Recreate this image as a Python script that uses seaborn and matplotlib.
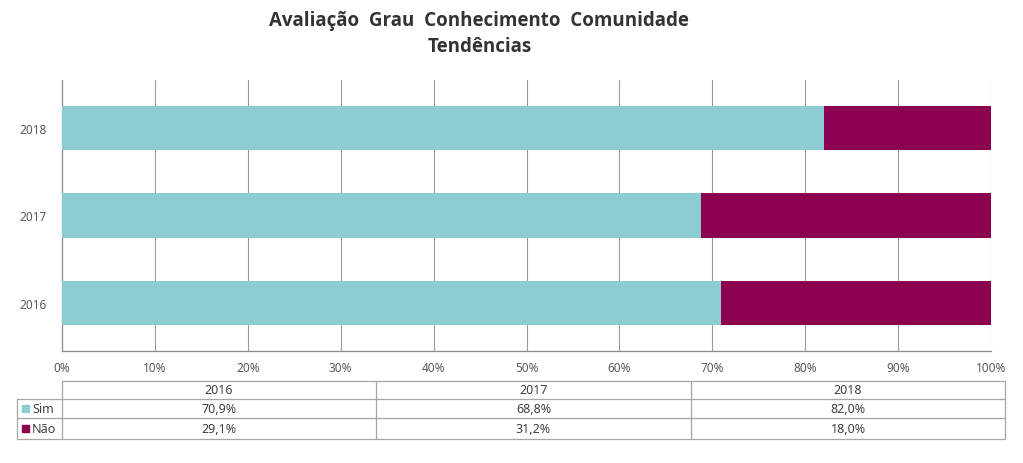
import matplotlib
matplotlib.use('Agg')
import matplotlib.pyplot as plt
import seaborn as sns
import pandas as pd

anos = ['2016', '2017', '2018']
sim = [70.9, 68.8, 82.0]
nao = [29.1, 31.2, 18.0]
sim_txt = ['70,9%', '68,8%', '82,0%']
nao_txt = ['29,1%', '31,2%', '18,0%']
x_ticks = [0, 10, 20, 30, 40, 50, 60, 70, 80, 90, 100]

cor_sim = '#8BCDD1'
cor_nao = '#8C0050'
cor_linha = '#A6A6A6'

sns.set_theme(style='white')
plt.rcParams['font.family'] = ['Noto Sans', 'DejaVu Sans']

df = pd.DataFrame({'ano': anos, 'Sim': sim, 'Não': nao})
df['total'] = df['Sim'] + df['Não']
ordem = ['2018', '2017', '2016']

W, H = 1023, 464
fig = plt.figure(figsize=(W / 100, H / 100), dpi=100)

# grafico principal (coordenadas em pixels convertidas)
ax = fig.add_axes([62 / W, 1 - 352 / H, (991 - 62) / W, (352 - 81) / H])
ax.grid(axis='x', color='#9A9A9A', linewidth=0.8, zorder=0)
ax.set_axisbelow(True)
sns.barplot(data=df, x='total', y='ano', order=ordem, color=cor_nao, width=0.51,
            saturation=1, orient='h', linewidth=0, ax=ax, zorder=2)
sns.barplot(data=df, x='Sim', y='ano', order=ordem, color=cor_sim, width=0.51,
            saturation=1, orient='h', linewidth=0, ax=ax, zorder=3)
ax.set_xlim(0, 100)
ax.set_ylim(2.55, -0.55)
ax.set_xticks(x_ticks)
ax.set_xticklabels([f'{t}%' for t in x_ticks])
ax.set_xlabel('')
ax.set_ylabel('')
ax.tick_params(axis='both', length=0, labelsize=8.5, labelcolor='#595959')
ax.tick_params(axis='x', pad=7)
ax.tick_params(axis='y', pad=11)
for s in ['top', 'right']:
    ax.spines[s].set_visible(False)
for s in ['left', 'bottom']:
    ax.spines[s].set_color('#8C8C8C')
    ax.spines[s].set_linewidth(0.9)

# titulo
fig.text(479 / W, 1 - 21 / H, 'Avaliação  Grau  Conhecimento  Comunidade', ha='center', va='center',
         fontsize=13.5, fontweight='bold', color='#333333', family=['Open Sans', 'DejaVu Sans'])
fig.text(480 / W, 1 - 47 / H, 'Tendências', ha='center', va='center',
         fontsize=13.5, fontweight='bold', color='#333333', family=['Open Sans', 'DejaVu Sans'])

# tabela de dados (eixo em pixels)
tab = fig.add_axes([0, 0, 1, 1])
tab.set_xlim(0, W)
tab.set_ylim(H, 0)
tab.axis('off')
cols = [62, 376, 691, 1005]
rows = [382, 400, 419, 440]
lw = 0.9
# linhas horizontais
tab.plot([62, 1005], [rows[0], rows[0]], color=cor_linha, lw=lw)
for r in rows[1:]:
    tab.plot([17, 1005], [r, r], color=cor_linha, lw=lw)
# linhas verticais
tab.plot([17, 17], [rows[1], rows[3]], color=cor_linha, lw=lw)
for c in cols:
    tab.plot([c, c], [rows[0], rows[3]], color=cor_linha, lw=lw)

for i in range(len(anos)):
    xc = (cols[i] + cols[i + 1]) / 2
    tab.text(xc, (rows[0] + rows[1]) / 2, anos[i], ha='center', va='center', fontsize=9, color='#404040')
    tab.text(xc, (rows[1] + rows[2]) / 2, sim_txt[i], ha='center', va='center', fontsize=9, color='#404040')
    tab.text(xc, (rows[2] + rows[3]) / 2, nao_txt[i], ha='center', va='center', fontsize=9, color='#404040')

# legenda na tabela
for nome, cor, r0, r1 in [('Sim', cor_sim, rows[1], rows[2]), ('Não', cor_nao, rows[2], rows[3])]:
    ym = (r0 + r1) / 2
    tab.add_patch(plt.Rectangle((22, ym - 3.5), 7, 7, color=cor))
    tab.text(32, ym, nome, ha='left', va='center', fontsize=9, color='#404040')

fig.savefig('out.png', dpi=100)
